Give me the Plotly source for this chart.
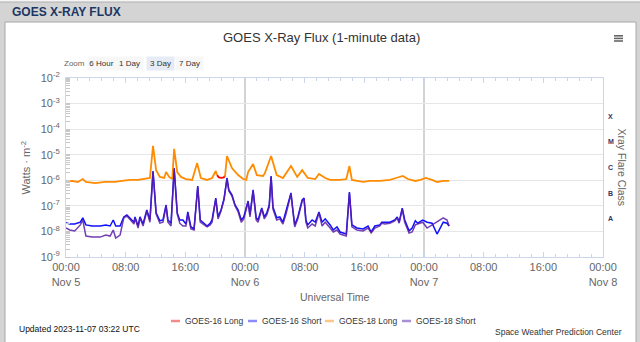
import plotly.graph_objects as go

# ---------------- data ----------------
# GOES-16 Long (0.1-0.8 nm) - only the short stretch not covered by GOES-18
g16_long_time = ["2023-11-05 20:15", "2023-11-05 20:30", "2023-11-05 20:50",
                 "2023-11-05 21:10", "2023-11-05 21:19"]
g16_long_flux = [1.6e-6, 1.3e-6, 1.25e-6, 1.3e-6, 1.5e-6]

# GOES-18 Long (0.1-0.8 nm), W/m^2
g18_long_time = [
    "2023-11-05 00:00", "2023-11-05 00:48", "2023-11-05 01:35", "2023-11-05 02:15",
    "2023-11-05 02:40", "2023-11-05 03:55", "2023-11-05 05:15", "2023-11-05 06:35",
    "2023-11-05 07:30", "2023-11-05 08:35", "2023-11-05 09:40", "2023-11-05 10:35",
    "2023-11-05 11:15", "2023-11-05 11:40", "2023-11-05 12:05", "2023-11-05 12:35",
    "2023-11-05 13:10", "2023-11-05 13:25", "2023-11-05 13:50", "2023-11-05 14:15",
    "2023-11-05 14:30", "2023-11-05 14:55", "2023-11-05 15:25", "2023-11-05 16:05",
    "2023-11-05 16:55", "2023-11-05 17:35", "2023-11-05 18:05", "2023-11-05 18:55",
    "2023-11-05 19:35", "2023-11-05 20:05", "2023-11-05 20:15", "2023-11-05 20:45",
    "2023-11-05 21:19", "2023-11-05 21:35", "2023-11-05 22:15", "2023-11-05 23:05",
    "2023-11-05 23:45", "2023-11-06 00:10", "2023-11-06 00:25", "2023-11-06 01:05",
    "2023-11-06 01:35", "2023-11-06 02:25", "2023-11-06 02:40", "2023-11-06 03:30",
    "2023-11-06 04:15", "2023-11-06 05:05", "2023-11-06 06:10", "2023-11-06 07:00",
    "2023-11-06 07:40", "2023-11-06 08:25", "2023-11-06 09:25", "2023-11-06 09:55",
    "2023-11-06 10:45", "2023-11-06 11:25", "2023-11-06 12:45", "2023-11-06 13:35",
    "2023-11-06 14:00", "2023-11-06 14:20", "2023-11-06 15:50", "2023-11-06 16:45",
    "2023-11-06 18:05", "2023-11-06 19:25", "2023-11-06 20:15", "2023-11-06 21:10",
    "2023-11-06 21:50", "2023-11-06 22:50", "2023-11-06 23:30", "2023-11-07 00:15",
    "2023-11-07 01:05", "2023-11-07 01:45", "2023-11-07 02:35", "2023-11-07 03:22",
]
g18_long_flux = [
    8.6e-7, 9.4e-7, 8.6e-7, 1.12e-6,
    8.6e-7, 7.8e-7, 8.6e-7, 8.6e-7,
    9.4e-7, 1.03e-6, 1.03e-6, 1.12e-6,
    1.23e-6, 2.2e-5, 2.5e-6, 1.35e-6,
    1.23e-6, 2.1e-6, 1.35e-6, 1.12e-6,
    1.7e-5, 2.1e-6, 1.35e-6, 1.12e-6,
    1.03e-6, 4.7e-6, 1.23e-6, 1.03e-6,
    1.23e-6, 2.3e-6, 1.6e-6, None,
    1.4e-6, 8.9e-6, 3.0e-6, 1.6e-6,
    1.12e-6, 1.03e-6, 2.1e-6, 4.3e-6,
    1.6e-6, 1.47e-6, 1.9e-6, 8.9e-6,
    1.6e-6, 1.23e-6, 3.6e-6, 1.35e-6,
    2.5e-6, 1.23e-6, 1.12e-6, 1.76e-6,
    1.23e-6, 1.03e-6, 1.03e-6, 1.12e-6,
    3.6e-6, 1.03e-6, 8.6e-7, 9.4e-7,
    9.4e-7, 1.03e-6, 1.23e-6, 1.47e-6,
    1.12e-6, 9.4e-7, 1.03e-6, 1.23e-6,
    1.03e-6, 8.6e-7, 9.4e-7, 9.4e-7,
]

# GOES-16 Short (0.05-0.4 nm), W/m^2
g16_short_time = [
    "2023-11-05 00:00", "2023-11-05 00:30", "2023-11-05 01:10", "2023-11-05 01:55",
    "2023-11-05 02:15", "2023-11-05 02:40", "2023-11-05 03:30", "2023-11-05 04:35",
    "2023-11-05 05:20", "2023-11-05 05:55", "2023-11-05 06:20", "2023-11-05 06:40",
    "2023-11-05 07:15", "2023-11-05 07:45", "2023-11-05 08:10", "2023-11-05 08:35",
    "2023-11-05 09:07", "2023-11-05 09:15", "2023-11-05 09:40", "2023-11-05 09:55",
    "2023-11-05 10:20", "2023-11-05 10:50", "2023-11-05 11:15", "2023-11-05 11:40",
    "2023-11-05 12:05", "2023-11-05 12:35", "2023-11-05 13:00", "2023-11-05 13:25",
    "2023-11-05 13:40", "2023-11-05 14:05", "2023-11-05 14:30", "2023-11-05 14:55",
    "2023-11-05 15:15", "2023-11-05 15:40", "2023-11-05 16:05", "2023-11-05 16:20",
    "2023-11-05 16:45", "2023-11-05 17:10", "2023-11-05 17:40", "2023-11-05 18:00",
    "2023-11-05 18:20", "2023-11-05 18:55", "2023-11-05 19:20", "2023-11-05 19:35",
    "2023-11-05 20:05", "2023-11-05 20:23", "2023-11-05 20:47", "2023-11-05 21:11",
    "2023-11-05 21:35", "2023-11-05 21:50", "2023-11-05 22:15", "2023-11-05 22:40",
    "2023-11-05 23:05", "2023-11-05 23:30", "2023-11-05 23:50", "2023-11-06 00:25",
    "2023-11-06 00:40", "2023-11-06 01:05", "2023-11-06 01:30", "2023-11-06 01:45",
    "2023-11-06 02:15", "2023-11-06 02:35", "2023-11-06 02:55", "2023-11-06 03:15",
    "2023-11-06 03:30", "2023-11-06 03:45", "2023-11-06 04:15", "2023-11-06 04:40",
    "2023-11-06 05:05", "2023-11-06 05:30", "2023-11-06 06:10", "2023-11-06 06:25",
    "2023-11-06 06:40", "2023-11-06 07:05", "2023-11-06 07:40", "2023-11-06 07:55",
    "2023-11-06 08:10", "2023-11-06 08:25", "2023-11-06 09:00", "2023-11-06 09:25",
    "2023-11-06 09:55", "2023-11-06 10:20", "2023-11-06 10:45", "2023-11-06 11:25",
    "2023-11-06 11:50", "2023-11-06 12:20", "2023-11-06 12:45", "2023-11-06 13:10",
    "2023-11-06 13:35", "2023-11-06 14:00", "2023-11-06 14:20", "2023-11-06 15:00",
    "2023-11-06 15:50", "2023-11-06 16:30", "2023-11-06 16:55", "2023-11-06 17:25",
    "2023-11-06 18:05", "2023-11-06 18:20", "2023-11-06 18:45", "2023-11-06 19:25",
    "2023-11-06 20:05", "2023-11-06 20:25", "2023-11-06 20:40", "2023-11-06 21:05",
    "2023-11-06 21:25", "2023-11-06 22:00", "2023-11-06 22:25", "2023-11-06 22:50",
    "2023-11-06 23:10", "2023-11-06 23:50", "2023-11-07 00:25", "2023-11-07 01:05",
    "2023-11-07 01:45", "2023-11-07 02:35", "2023-11-07 03:05", "2023-11-07 03:22",
]
g16_short_flux = [
    2.2e-8, 1.95e-8, 1.95e-8, 2.3e-8,
    3.4e-8, 1.8e-8, 1.63e-8, 1.63e-8,
    1.8e-8, 1.63e-8, 2.8e-8, 1.63e-8,
    1.63e-8, 3.7e-8, 4.4e-8, 3.4e-8,
    2.3e-8, 3.7e-8, 1.63e-8, 3.7e-8,
    1.95e-8, 6.9e-8, 2.8e-8, 2.3e-6,
    5.3e-8, 2.6e-8, 2.8e-8, 1.08e-7,
    2.8e-8, 2.1e-8, 3.0e-6, 5.3e-8,
    2.8e-8, 2.8e-8, 1.95e-8, 5.8e-8,
    1.5e-8, 1.25e-8, 6.0e-7, 2.8e-8,
    2.3e-8, 1.63e-8, 2.1e-8, 2.8e-8,
    2.0e-7, 3.7e-8, 6.9e-8, 1.85e-7,
    1.23e-6, 4.2e-7, 2.7e-7, 1.08e-7,
    6.9e-8, 2.8e-8, 3.7e-8, 1.55e-7,
    4.4e-8, 4.2e-7, 3.4e-8, 2.8e-8,
    8.2e-8, 3.7e-8, 5.3e-8, 1.08e-7,
    1.47e-6, 9.0e-8, 3.4e-8, 3.7e-8,
    2.3e-8, 5.8e-8, 3.2e-7, 6.9e-8,
    1.8e-8, 3.7e-8, 1.7e-7, 2.0e-7,
    2.8e-8, 1.8e-8, 2.8e-8, 2.3e-8,
    5.8e-8, 2.3e-8, 3.1e-8, 1.8e-8,
    1.14e-8, 1.5e-8, 9.5e-9, 8.7e-9,
    7.9e-9, 3.5e-7, 1.8e-8, 1.36e-8,
    1.25e-8, 1.63e-8, 9.5e-9, 1.63e-8,
    1.8e-8, 2.3e-8, 2.3e-8, 2.3e-8,
    2.8e-8, 3.7e-8, 2.3e-8, 8.2e-8,
    2.8e-8, 1.05e-8, 1.36e-8, 2.6e-8,
    2.1e-8, 2.8e-8, 2.3e-8, 2.1e-8,
    7.9e-9, 2.3e-8, 2.1e-8, 1.63e-8,
]

# GOES-18 Short (0.05-0.4 nm), W/m^2
g18_short_time = list(g16_short_time)
g18_short_flux = [
    1.36e-8, 1.14e-8, 1.05e-8, 1.8e-8,
    2.8e-8, 6.6e-9, 6.0e-9, 6.0e-9,
    7.2e-9, 6.6e-9, 1.14e-8, 5.5e-9,
    7.2e-9, 3.4e-8, 4.0e-8, 2.8e-8,
    1.95e-8, 3.4e-8, 1.36e-8, 3.4e-8,
    1.63e-8, 6.3e-8, 2.3e-8, 2.1e-6,
    4.8e-8, 2.1e-8, 2.3e-8, 9.8e-8,
    2.3e-8, 1.63e-8, 2.8e-6, 4.8e-8,
    2.1e-8, 1.63e-8, 1.63e-8, 4.8e-8,
    1.25e-8, 1.14e-8, 5.5e-7, 2.3e-8,
    1.95e-8, 1.5e-8, 1.8e-8, 2.3e-8,
    1.85e-7, 3.1e-8, 6.3e-8, 1.7e-7,
    1.12e-6, 3.8e-7, 2.4e-7, 9.8e-8,
    5.8e-8, 2.3e-8, 3.1e-8, 1.42e-7,
    3.7e-8, 3.8e-7, 2.8e-8, 2.3e-8,
    7.5e-8, 3.1e-8, 4.4e-8, 9.0e-8,
    1.35e-6, 7.5e-8, 2.8e-8, 3.1e-8,
    1.95e-8, 4.8e-8, 2.9e-7, 5.8e-8,
    1.5e-8, 3.1e-8, 1.55e-7, 1.85e-7,
    2.3e-8, 1.36e-8, 1.95e-8, 1.63e-8,
    5.3e-8, 1.63e-8, 2.3e-8, 1.36e-8,
    9.5e-9, 1.14e-8, 7.9e-9, 7.2e-9,
    6.6e-9, 3.2e-7, 1.5e-8, 1.14e-8,
    1.05e-8, 1.36e-8, 8.7e-9, 1.36e-8,
    1.63e-8, 2.1e-8, 1.95e-8, 2.1e-8,
    2.6e-8, 3.4e-8, 2.1e-8, 7.5e-8,
    2.3e-8, 8.7e-9, 9.5e-9, 1.8e-8,
    1.95e-8, 2.3e-8, 1.36e-8, 1.8e-8,
    2.3e-8, 3.4e-8, 2.8e-8, 1.63e-8,
]

# axis ticks
x_tick_vals = ["2023-11-05 00:00", "2023-11-05 08:00", "2023-11-05 16:00",
               "2023-11-06 00:00", "2023-11-06 08:00", "2023-11-06 16:00",
               "2023-11-07 00:00", "2023-11-07 08:00", "2023-11-07 16:00",
               "2023-11-08 00:00"]
x_tick_text = ["00:00<br>Nov 5", "08:00", "16:00",
               "00:00<br>Nov 6", "08:00", "16:00",
               "00:00<br>Nov 7", "08:00", "16:00",
               "00:00<br>Nov 8"]
day_lines = ["2023-11-06 00:00", "2023-11-07 00:00"]
y_exponents = [-9, -8, -7, -6, -5, -4, -3, -2]
flare_classes = ["A", "B", "C", "M", "X"]
# log10 of the flux at the middle of each class band
flare_class_log_centers = [-7.5, -6.5, -5.5, -4.5, -3.5]

series_names = ["GOES-16 Long", "GOES-16 Short", "GOES-18 Long", "GOES-18 Short"]
series_colors = ["#ff0000", "#1010ff", "#ff8c00", "#5a1ea8"]
legend_colors = ["#f58a8a", "#8c8cff", "#ffc787", "#a98fd6"]

# ---------------- layout geometry ----------------
W, H = 640, 342
ML, MR, MT, MB = 66, 37, 78, 85
PW, PH = W - ML - MR, H - MT - MB
FONT = "Liberation Sans, Arial, sans-serif"


def px(x):
    return (x - ML) / PW


def py(y):
    return (H - MB - y) / PH


fig = go.Figure()

fig.add_trace(go.Scatter(x=g16_long_time, y=g16_long_flux, mode="lines",
                         name=series_names[0],
                         line=dict(color=series_colors[0], width=1.8)))
fig.add_trace(go.Scatter(x=g16_short_time, y=g16_short_flux, mode="lines",
                         name=series_names[1],
                         line=dict(color=series_colors[1], width=1.5)))
fig.add_trace(go.Scatter(x=g18_long_time, y=g18_long_flux, mode="lines",
                         name=series_names[2], connectgaps=False,
                         line=dict(color=series_colors[2], width=1.8)))
fig.add_trace(go.Scatter(x=g18_short_time, y=g18_short_flux, mode="lines",
                         name=series_names[3], opacity=0.85,
                         line=dict(color=series_colors[3], width=1.5)))

shapes = []
# white chart panel on the grey page
shapes.append(dict(type="rect", xref="paper", yref="paper",
                   x0=px(5), x1=px(636), y0=py(346), y1=py(22),
                   fillcolor="white", line=dict(color="#a8a8a8", width=1),
                   layer="below"))
shapes.append(dict(type="rect", xref="paper", yref="paper",
                   x0=px(-2), x1=px(642), y0=py(2), y1=py(-2),
                   fillcolor="#f4f4f4", line=dict(color="#b0b0b0", width=1),
                   layer="below"))
# day separators
for d in day_lines:
    shapes.append(dict(type="line", xref="x", yref="paper", x0=d, x1=d, y0=0, y1=1,
                       line=dict(color="#c4c4c4", width=1.5), layer="below"))
# export menu icon
for yy in (35.8, 38.4, 41.0):
    shapes.append(dict(type="line", xref="paper", yref="paper",
                       x0=px(614), x1=px(623), y0=py(yy), y1=py(yy),
                       line=dict(color="#666666", width=1.6)))

annotations = []


def note(text, x, y, size, color="#333333", xanchor="center", yanchor="middle",
         **kw):
    annotations.append(dict(text=text, x=px(x), y=py(y), xref="paper", yref="paper",
                            xanchor=xanchor, yanchor=yanchor, showarrow=False,
                            font=dict(family=FONT, size=size, color=color), **kw))


note("<b>GOES X-RAY FLUX</b>", 10, 11.5, 12, color="#1c3763", xanchor="left")
note("GOES X-Ray Flux (1-minute data)", 321, 37.5, 13, color="#333333")

# range selector look
note("Zoom", 74, 64, 8, color="#666666")
for label, cx, bg in (("6 Hour", 101, "#f7f7f7"), ("1 Day", 129.5, "#f7f7f7"),
                      ("3 Day", 160, "#e6ebf5"), ("7 Day", 189.5, "#f7f7f7")):
    note(label, cx, 64, 8, color="#333333", bgcolor=bg, width=27, height=13,
         borderpad=0, align="center")

# axis titles
note("Watts · m<sup>-2</sup>", 25, 167.5, 11, color="#666666", textangle=-90)
note("Universal Time", 335, 297, 10.5, color="#666666")
note("Xray Flare Class", 622, 167.5, 10.5, color="#666666", textangle=90)

# flare class labels on the right (log axis: y given as log10 value)
for cls, lv in zip(flare_classes, flare_class_log_centers):
    annotations.append(dict(text="<b>%s</b>" % cls, x=1.0, y=lv, xref="paper",
                            yref="y", yanchor="middle", xanchor="left", xshift=3,
                            showarrow=False,
                            font=dict(family=FONT, size=7, color="#333366")))

# legend row
legend_x = [171, 248, 325, 402]
for name, lc, lx in zip(series_names, legend_colors, legend_x):
    shapes.append(dict(type="line", xref="paper", yref="paper",
                       x0=px(lx), x1=px(lx + 9), y0=py(321), y1=py(321),
                       line=dict(color=lc, width=2.5)))
    note(name, lx + 11.5, 321, 8.5, color="#333333", xanchor="left")

note("Updated 2023-11-07 03:22 UTC", 17, 328.5, 8.5, color="#111111", xanchor="left")
note("Space Weather Prediction Center", 624, 331.5, 8.5, color="#333333",
     xanchor="right")

fig.update_layout(
    width=W, height=H,
    margin=dict(l=ML, r=MR, t=MT, b=MB, pad=0),
    paper_bgcolor="#d4d4d4",
    plot_bgcolor="white",
    showlegend=False,
    font=dict(family=FONT, color="#666666"),
    shapes=shapes,
    annotations=annotations,
    xaxis=dict(
        type="date", range=["2023-11-05 00:00", "2023-11-08 00:00"],
        tickmode="array", tickvals=x_tick_vals, ticktext=x_tick_text,
        tickfont=dict(family=FONT, size=11, color="#666666"),
        showgrid=False, zeroline=False,
        showline=True, linecolor="#ccd6eb", linewidth=1, mirror="ticks",
        ticks="inside", ticklen=5, tickcolor="#ccd6eb",
        minor=dict(ticks="inside", ticklen=3, tickcolor="#ccd6eb",
                   dtick=3600000 * 1.6, tick0="2023-11-05 00:00", showgrid=False),
    ),
    yaxis=dict(
        type="log", range=[-9, -2],
        tickmode="array", tickvals=[10.0 ** e for e in y_exponents],
        ticktext=["10<sup>%d</sup>" % e for e in y_exponents],
        tickfont=dict(family=FONT, size=11, color="#666666"),
        showgrid=True, gridcolor="#e6e6e6", gridwidth=1, zeroline=False,
        showline=True, linecolor="#ccd6eb", linewidth=1, mirror=True,
        ticks="", ticklabelstandoff=3,
        minor=dict(ticks="inside", ticklen=4, tickcolor="#c8c8c8",
                   dtick="D1", showgrid=False),
    ),
)

fig.write_html("out.html")
